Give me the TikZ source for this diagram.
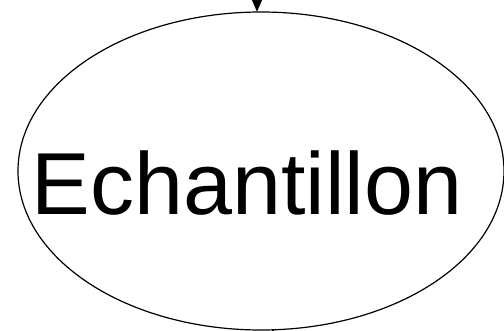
\documentclass[tikz,border=0pt]{standalone}
\usepackage{fontspec}
\setmainfont{Liberation Sans}
\usetikzlibrary{shapes.geometric,arrows.meta}
\begin{document}
\begin{tikzpicture}[x=1pt,y=1pt,
  oval/.style={draw,ellipse,line width=1.2pt,minimum width=486pt,minimum height=318pt,inner sep=0pt},
  label/.style={font=\fontsize{88}{90}\selectfont,inner sep=0pt,anchor=base},
  flow/.style={line width=1.2pt,-{Triangle[width=10pt,length=12pt]}}]
\useasboundingbox (0,0) rectangle (504,330);
\begin{scope}
\clip (0,0) rectangle (504,330);
\node[oval] (e) at (261,159) {};
\node[label] (t) at (247,115) {Echantillon};
\coordinate (in) at (257,340);
\coordinate (top) at (257,318.2);
\draw[flow] (in) -- (top);
\coordinate (out) at (273,1);
\coordinate (below) at (273,-20);
\draw[line width=1.2pt] (out) -- (below);
\end{scope}
\end{tikzpicture}
\end{document}
